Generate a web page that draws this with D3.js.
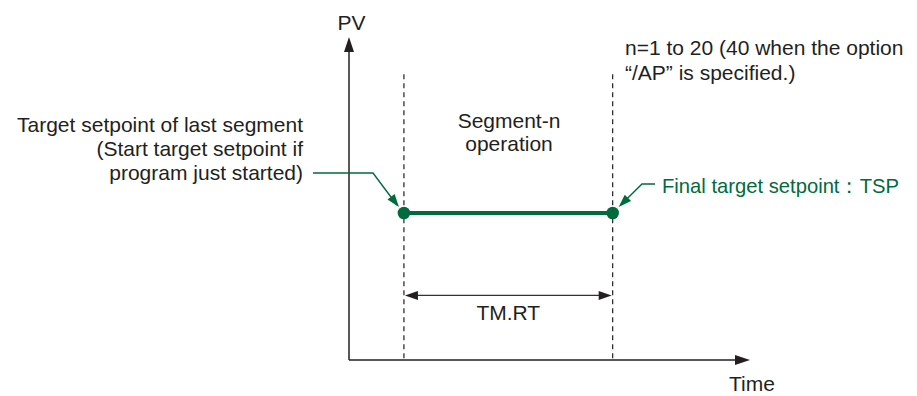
<!DOCTYPE html>
<html>
<head>
<meta charset="utf-8">
<script src="https://cdn.jsdelivr.net/npm/d3@7"></script>
<style>
  body { margin: 0; background: #fff; }
  svg { display: block; }
</style>
</head>
<body>
<svg id="chart"></svg>
<script>
// diagram values (time in arbitrary units, PV in arbitrary units)
const timeDomain = [0, 7.3];
const pvDomain = [0, 10];
const segmentTimes = [1, 4.8];       // start / end of segment n
const segmentPV = [4.55, 4.55];      // flat (soak) segment
const guideTop = 8.85;               // top of dashed guides
const spanPV = 2.0;                  // level of the TM.RT span arrow

const leftLabel = ["Target setpoint of last segment", "(Start target setpoint if", "program just started)"];
const segLabel = ["Segment-n", "operation"];
const noteLabel = ["n=1 to 20 (40 when the option", "\u201c/AP\u201d is specified.)"];
const tspLabel = "Final target setpoint\uff1aTSP";

const width = 917, height = 396;
const ink = "#231f20", green = "#006b3d";
const font = "'Liberation Sans', Arial, sans-serif";

const svg = d3.select("#chart").attr("width", width).attr("height", height);

const x = d3.scaleLinear().domain(timeDomain).range([349, 750]);
const y = d3.scaleLinear().domain(pvDomain).range([360, 37]);

function arrowHead(g, tip, angle, len, half, color) {
    g.append("path")
        .attr("d", `M0,0 L${-len},${-half} L${-len},${half} Z`)
        .attr("transform", `translate(${tip[0]},${tip[1]}) rotate(${angle})`)
        .attr("fill", color);
}

// dashed guides
svg.append("g")
    .selectAll("line")
    .data(segmentTimes)
    .enter().append("line")
        .attr("x1", d => x(d)).attr("x2", d => x(d))
        .attr("y1", y(guideTop)).attr("y2", y(0))
        .attr("stroke", "#231f20")
        .attr("stroke-width", 1.2)
        .attr("stroke-dasharray", "5,4");

// axes
const axes = svg.append("g");
axes.append("line")
    .attr("x1", x(0)).attr("x2", x(timeDomain[1]) - 10)
    .attr("y1", y(0)).attr("y2", y(0))
    .attr("stroke", ink).attr("stroke-width", 1.5);
axes.append("line")
    .attr("x1", x(0)).attr("x2", x(0))
    .attr("y1", y(0)).attr("y2", y(pvDomain[1]) + 10)
    .attr("stroke", ink).attr("stroke-width", 1.5);
arrowHead(axes, [x(timeDomain[1]), y(0)], 0, 15, 5, ink);
arrowHead(axes, [x(0), y(pvDomain[1])], -90, 15, 5, ink);

// TM.RT span arrow
const span = svg.append("g");
span.append("line")
    .attr("x1", x(segmentTimes[0]) + 8).attr("x2", x(segmentTimes[1]) - 8)
    .attr("y1", y(spanPV)).attr("y2", y(spanPV))
    .attr("stroke", "#333").attr("stroke-width", 1.4);
arrowHead(span, [x(segmentTimes[0]) + 1, y(spanPV)], 180, 13, 4.5, ink);
arrowHead(span, [x(segmentTimes[1]) - 1, y(spanPV)], 0, 13, 4.5, ink);

// segment line and end points
const pts = segmentTimes.map((t, i) => [t, segmentPV[i]]);
svg.append("path")
    .datum(pts)
    .attr("d", d3.line().x(d => x(d[0])).y(d => y(d[1])))
    .attr("fill", "none")
    .attr("stroke", green)
    .attr("stroke-width", 4);
svg.append("g")
    .attr("fill", green)
    .selectAll("circle")
    .data(pts)
    .enter().append("circle")
        .attr("cx", d => x(d[0]))
        .attr("cy", d => y(d[1]))
        .attr("r", 6.3);

// leader lines
const leaders = svg.append("g").attr("fill", "none").attr("stroke", green).attr("stroke-width", 1.4);
const lp = [x(segmentTimes[0]), y(segmentPV[0])];
leaders.append("path").attr("d", `M313,173 H373 L${lp[0] - 7},${lp[1] - 8}`);
arrowHead(svg, [lp[0] - 5, lp[1] - 6], Math.atan2(lp[1] - 6 - 173, lp[0] - 5 - 373) * 180 / Math.PI, 13, 4.5, green);
const rp = [x(segmentTimes[1]), y(segmentPV[1])];
leaders.append("path").attr("d", `M655,184 H642 L${rp[0] + 8},${rp[1] - 8}`);
arrowHead(svg, [rp[0] + 6, rp[1] - 6], Math.atan2(rp[1] - 6 - 184, rp[0] + 6 - 642) * 180 / Math.PI, 13, 4.5, green);

// text
const txt = svg.append("g")
    .style("font-family", font)
    .style("font-size", "21px")
    .attr("fill", ink);

txt.append("text").attr("x", 351.5).attr("y", 30).attr("text-anchor", "middle").text("PV");
txt.append("text").attr("x", 729).attr("y", 391).text("Time");
txt.append("text").attr("x", (x(segmentTimes[0]) + x(segmentTimes[1])) / 2).attr("y", 320)
    .attr("text-anchor", "middle").text("TM.RT");

txt.selectAll(".left")
    .data(leftLabel)
    .enter().append("text")
        .attr("x", 303).attr("y", (d, i) => 132 + i * 24)
        .attr("text-anchor", "end").text(d => d);

txt.selectAll(".seg")
    .data(segLabel)
    .enter().append("text")
        .attr("x", 509).attr("y", (d, i) => 128 + i * 23)
        .attr("text-anchor", "middle").text(d => d);

txt.selectAll(".note")
    .data(noteLabel)
    .enter().append("text")
        .attr("x", 625).attr("y", (d, i) => 55 + i * 25)
        .text(d => d);

txt.append("text")
    .attr("x", 662).attr("y", 193)
    .attr("fill", green)
    .attr("textLength", 237)
    .attr("lengthAdjust", "spacingAndGlyphs")
    .text(tspLabel);
</script>
</body>
</html>
